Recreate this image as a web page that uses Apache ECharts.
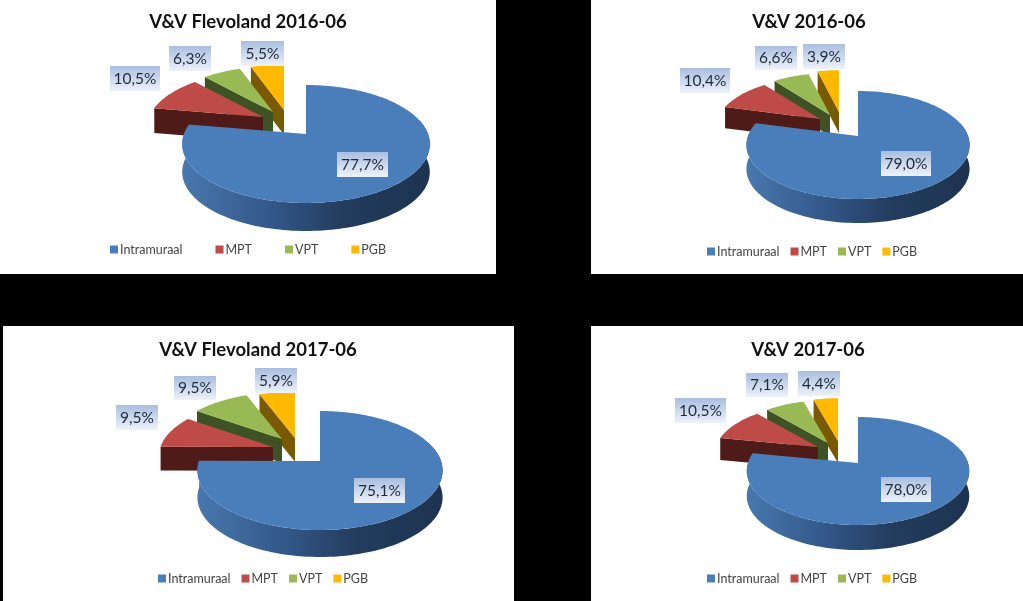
<!DOCTYPE html>
<html>
<head>
<meta charset="utf-8">
<style>
  html, body { margin: 0; padding: 0; background: #000; }
  #main { width: 1023px; height: 601px; }
</style>
<script src="https://cdn.jsdelivr.net/npm/echarts@6/dist/echarts.min.js"></script>
</head>
<body>
<div id="main"></div>
<script>
// values per panel: Flevoland 2016, V&V 2016, Flevoland 2017, V&V 2017
const panelTitles = ["V&V Flevoland 2016-06", "V&V 2016-06", "V&V Flevoland 2017-06", "V&V 2017-06"];
const categories = ["Intramuraal", "MPT", "VPT", "PGB"];
const intramuraal = [77.7, 79.0, 75.1, 78.0];
const mpt = [10.5, 10.4, 9.5, 10.5];
const vpt = [6.3, 6.6, 9.5, 7.1];
const pgb = [5.5, 3.9, 5.9, 4.4];
const seriesValues = [intramuraal, mpt, vpt, pgb];

const colors = ["#4a7ebb", "#be4b48", "#98b954", "#ffb900"];
const wallColors = ["#365b8a", "#4e1b19", "#3f5224", "#7a5a00"];

// screen layout of every panel
const panels = [
  { rect: [0, 0, 496, 274], titleX: 248, titleY: 13, cx: 306, cy: 134, rx: 122, up: 49, down: 69, depth: 28,
    shift: [[0, 0], [-43, -17], [-33, -22], [-22, -24]],
    boxes: [[337, 152, 51, 25], [110, 66, 50, 25], [169, 46, 42, 25], [241, 41, 43, 25]],
    legendX: 110, legendY: 243, legendGap: 33 },
  { rect: [591, 0, 432, 274], titleX: 809, titleY: 13, cx: 858, cy: 136, rx: 110, up: 45, down: 63, depth: 24,
    shift: [[0, 0], [-38, -17], [-28, -21], [-19, -24]],
    boxes: [[881, 151, 50, 25], [680, 68, 50, 25], [755, 46, 42, 24], [803, 44, 42, 25]],
    legendX: 707, legendY: 245, legendGap: 11 },
  { rect: [3, 326, 511, 275], titleX: 258, titleY: 341, cx: 320, cy: 461, rx: 121, up: 50, down: 69, depth: 27,
    shift: [[0, 0], [-47, -14], [-38, -22], [-25, -23]],
    boxes: [[354, 478, 51, 25], [116, 405, 42, 25], [174, 376, 42, 24], [255, 368, 42, 25]],
    legendX: 158, legendY: 572, legendGap: 11 },
  { rect: [591, 326, 432, 275], titleX: 808, titleY: 341, cx: 858, cy: 463, rx: 110, up: 46, down: 62, depth: 25,
    shift: [[0, 0], [-40, -16], [-30, -20], [-20, -22]],
    boxes: [[881, 477, 50, 25], [675, 398, 51, 25], [746, 373, 42, 24], [798, 371, 42, 25]],
    legendX: 707, legendY: 572, legendGap: 11 }
];

const fontName = "Lato";
const explodedScale = 0.93;
const explodedDepth = 0.88;

// perspective: a point on the unit disc to screen px, relative to the apex
function project(p, u, v) {
  const k = (p.down - p.up) / (p.down + p.up);
  const h = p.up * (1 + k);
  const w = 1 + k * v;
  return [p.rx * u / w, -h * v / w];
}

function arcPoints(p, from, to, scale, ox, oy) {
  let pts = [];
  const n = Math.max(2, Math.ceil((to - from) / 0.03));
  for (let i = 0; i <= n; i++) {
    const a = from + (to - from) * i / n;
    const q = project(p, Math.sin(a), Math.cos(a));
    pts.push([p.cx + ox + q[0] * scale, p.cy + oy + q[1] * scale]);
  }
  return pts;
}

function formatShare(v) {
  return v.toFixed(1).replace(".", ",") + "%";
}

function renderSlice(catIndex) {
  return function (params, api) {
    const i = params.dataIndex;
    const p = panels[i];
    const total = seriesValues.reduce((s, arr) => s + arr[i], 0);
    let before = 0;
    for (let c = 0; c < catIndex; c++) before += seriesValues[c][i];
    const value = api.value(0);
    const start = before / total * Math.PI * 2;
    const end = (before + value) / total * Math.PI * 2;
    const ox = p.shift[catIndex][0];
    const oy = p.shift[catIndex][1];
    const scale = catIndex === 0 ? 1 : explodedScale;
    const depth = catIndex === 0 ? p.depth : p.depth * explodedDepth;
    const ax = p.cx + ox;
    const ay = p.cy + oy;
    const children = [];

    if (catIndex === 0) {
      // round outer wall of the big slice
      const top = arcPoints(p, Math.PI * 0.42, Math.min(end, Math.PI * 1.6), 1, 0, 0);
      const bottom = top.map(q => [q[0], q[1] + depth]).reverse();
      children.push({
        type: "polygon",
        shape: { points: top.concat(bottom) },
        style: {
          fill: new echarts.graphic.LinearGradient(0, 0, 1, 0, [
            { offset: 0, color: "#4878ae" },
            { offset: 0.35, color: "#33588a" },
            { offset: 0.65, color: "#233c5e" },
            { offset: 1, color: "#1d3350" }
          ])
        }
      });
    } else {
      // flat cut face toward the viewer
      const o = arcPoints(p, start, start, scale, ox, oy)[0];
      children.push({
        type: "polygon",
        shape: { points: [[ax, ay], o, [o[0], o[1] + depth], [ax, ay + depth]] },
        style: { fill: wallColors[catIndex] }
      });
    }

    children.push({
      type: "polygon",
      shape: { points: [[ax, ay]].concat(arcPoints(p, start, end, scale, ox, oy)) },
      style: { fill: colors[catIndex] }
    });

    const b = p.boxes[catIndex];
    children.push({
      type: "rect",
      z2: 20,
      shape: { x: b[0], y: b[1], width: b[2], height: b[3] },
      style: {
        fill: new echarts.graphic.LinearGradient(0, 0, 0, 1, [
          { offset: 0, color: "#a9bee0" },
          { offset: 1, color: "#eef2fa" }
        ])
      }
    });
    children.push({
      type: "text",
      z2: 21,
      style: {
        x: b[0] + b[2] / 2,
        y: b[1] + b[3] / 2,
        text: formatShare(value),
        fill: "#1f2b3a",
        font: "15.5px " + fontName,
        align: "center",
        verticalAlign: "middle"
      }
    });
    return { type: "group", children: children };
  };
}

const chart = echarts.init(document.getElementById("main"));

// back to front: the big slice has to cover the exploded ones
const series = [3, 2, 1, 0].map(c => ({
  type: "custom",
  name: categories[c],
  coordinateSystem: "none",
  silent: true,
  itemStyle: { color: colors[c] },
  renderItem: renderSlice(c),
  data: seriesValues[c].map(v => [v])
}));

chart.setOption({
  animation: false,
  backgroundColor: "#000",
  tooltip: { show: false },
  graphic: panels.map(p => ({
    type: "rect",
    z: -1,
    silent: true,
    shape: { x: p.rect[0], y: p.rect[1], width: p.rect[2], height: p.rect[3] },
    style: { fill: "#fff" }
  })),
  title: panels.map((p, i) => ({
    text: panelTitles[i],
    left: p.titleX,
    top: p.titleY,
    textAlign: "center",
    padding: 0,
    textStyle: { fontFamily: fontName, fontWeight: "bold", fontSize: 18.5, color: "#111" }
  })),
  legend: panels.map(p => ({
    left: p.legendX,
    top: p.legendY,
    padding: 0,
    orient: "horizontal",
    itemWidth: 8,
    itemHeight: 8,
    itemGap: p.legendGap,
    selectedMode: false,
    icon: "rect",
    data: categories,
    textStyle: { fontFamily: fontName, fontSize: 12.5, color: "#444", padding: [0, 0, 0, -3] }
  })),
  series: series
});

window.addEventListener("resize", function () {
  chart.resize();
});
</script>
</body>
</html>
